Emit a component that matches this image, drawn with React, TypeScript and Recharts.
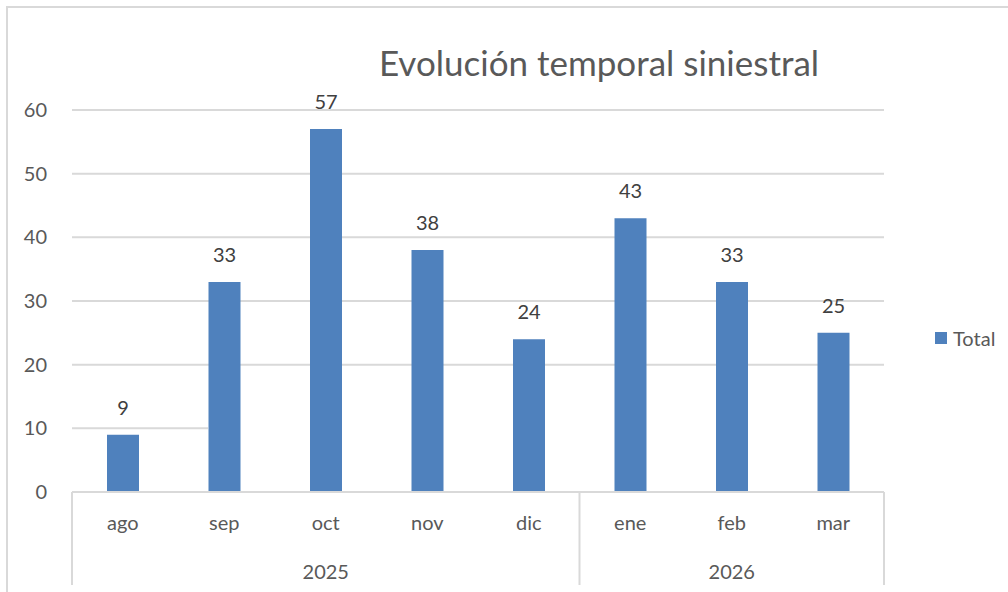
import React from 'react';
import { BarChart, Bar, XAxis, YAxis, CartesianGrid, LabelList, ReferenceLine } from 'recharts';

const months = ['ago', 'sep', 'oct', 'nov', 'dic', 'ene', 'feb', 'mar'];
const years = ['2025', '2025', '2025', '2025', '2025', '2026', '2026', '2026'];
const totals = [9, 33, 57, 38, 24, 43, 33, 25];
const yTicks = [0, 10, 20, 30, 40, 50, 60];
const gridValues = [20, 30, 40, 50, 60];

const data = months.map((m, i) => ({ month: m, year: years[i], total: totals[i] }));

const FONT = 'Lato, "Open Sans", sans-serif';
const AXIS_COLOR = '#d9d9d9';
const TEXT_COLOR = '#595959';
const BAR_COLOR = '#4f81bd';
const FS = 20;

const MultiTick = (props: any) => {
  const { x, y, payload, index } = props;
  const i = index as number;
  const half = payload && payload.offset ? payload.offset : 50.75;
  const els: any[] = [];
  els.push(
    <text key="m" x={x} y={y + 30} textAnchor="middle" dominantBaseline="central" fill={TEXT_COLOR} fontSize={FS} fontFamily={FONT}>
      {months[i]}
    </text>
  );
  const isStart = i === 0 || years[i] !== years[i - 1];
  if (isStart) {
    let end = i;
    while (end + 1 < years.length && years[end + 1] === years[i]) end++;
    const cx = x + ((i + end) / 2 - i) * 2 * half;
    els.push(
      <text key="y" x={cx} y={y + 79} textAnchor="middle" dominantBaseline="central" fill={TEXT_COLOR} fontSize={FS} fontFamily={FONT}>
        {years[i]}
      </text>
    );
    els.push(<line key="l" x1={x - half} x2={x - half} y1={y} y2={y + 93} stroke={AXIS_COLOR} strokeWidth={2} />);
  }
  if (i === years.length - 1) {
    els.push(<line key="r" x1={x + half} x2={x + half} y1={y} y2={y + 93} stroke={AXIS_COLOR} strokeWidth={2} />);
  }
  return <g>{els}</g>;
};

const PartialLine = (props: any) => {
  const { x1, x2, y1 } = props;
  const w = (x2 - x1) * (1.34 / months.length);
  return <line x1={x1} x2={x1 + w} y1={y1} y2={y1} stroke={AXIS_COLOR} strokeWidth={2} />;
};

export default function App() {
  return (
    <div style={{ position: 'absolute', left: 0, top: 0, width: 1008, height: 592, overflow: 'hidden', background: '#fff' }}>
      <div style={{ position: 'absolute', left: 6, top: 6, width: 1100, height: 700, borderLeft: `2px solid ${AXIS_COLOR}`, borderTop: `2px solid ${AXIS_COLOR}` }} />
      <div style={{ position: 'absolute', left: 0, top: 0 }}>
        <BarChart width={1008} height={592} data={data} margin={{ top: 110, right: 124, bottom: 0, left: 0 }}>
          <CartesianGrid vertical={false} horizontalValues={gridValues} stroke={AXIS_COLOR} strokeWidth={2} />
          <ReferenceLine y={10} stroke={AXIS_COLOR} shape={PartialLine} />
          <YAxis
            width={72}
            domain={[0, 60]}
            ticks={yTicks}
            axisLine={false}
            tickLine={false}
            tickSize={0}
            tickMargin={25}
            tick={{ fill: TEXT_COLOR, fontSize: FS, fontFamily: FONT }}
          />
          <XAxis
            dataKey="month"
            height={100}
            interval={0}
            tickLine={false}
            tickSize={0}
            tickMargin={0}
            axisLine={{ stroke: AXIS_COLOR, strokeWidth: 2 }}
            tick={MultiTick}
          />
          <Bar dataKey="total" fill={BAR_COLOR} barSize={32} isAnimationActive={false}>
            <LabelList dataKey="total" position="top" offset={20} fill="#404040" fontSize={FS} fontFamily={FONT} />
          </Bar>
        </BarChart>
      </div>
      <div style={{ position: 'absolute', left: 0, top: 40, width: 1198, textAlign: 'center', fontFamily: FONT, fontSize: 35, color: TEXT_COLOR, lineHeight: '44px' }}>
        Evolución temporal siniestral
      </div>
      <div style={{ position: 'absolute', left: 935, top: 326, display: 'flex', alignItems: 'center', fontFamily: FONT, fontSize: FS, color: TEXT_COLOR }}>
        <span style={{ display: 'inline-block', width: 12, height: 12, background: BAR_COLOR, marginRight: 6 }} />
        <span>Total</span>
      </div>
    </div>
  );
}
